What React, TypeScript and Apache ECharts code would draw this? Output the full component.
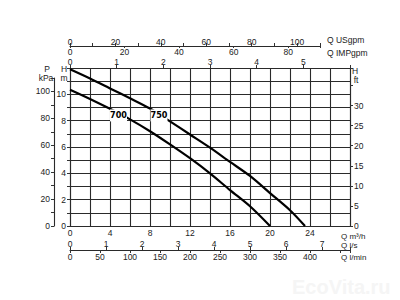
import React, { useEffect, useRef } from "react";
import * as echarts from "echarts";

// Flow (m³/h) and head (m)
const FLOW_700 = [0, 2, 4, 6, 8, 10, 12, 14, 16, 18, 20];
const HEAD_700 = [10.35, 9.65, 8.9, 8.1, 7.2, 6.2, 5.15, 4.0, 2.73, 1.5, 0];
const FLOW_750 = [0, 2, 4, 6, 8, 10, 12, 14, 16, 18, 20, 22, 23.5];
const HEAD_750 = [11.9, 11.2, 10.45, 9.7, 8.92, 7.95, 6.95, 5.95, 4.87, 3.8, 2.5, 1.2, 0];
const CURVE_NAMES = ["700", "750"];
const LABEL_AT = [
  [4.85, 8.4],
  [8.9, 8.4],
];

const FONT = "Liberation Sans, Arial, sans-serif";
const TXT = "#222";
const FS = 8.5;
const GRID_COLOR = "#2a2a2a";

export default function App() {
  const ref = useRef<HTMLDivElement>(null);
  useEffect(() => {
    const chart = echarts.init(ref.current!, null, { renderer: "svg" });
    const lab = (extra: any = {}) => ({
      fontFamily: FONT,
      fontSize: FS,
      color: TXT,
      hideOverlap: false,
      showMinLabel: true,
      showMaxLabel: true,
      ...extra,
    });
    const axLine = { show: true, onZero: false, lineStyle: { color: GRID_COLOR, width: 1.1 } };
    const noLine = { show: false, onZero: false };
    const tick = (len: number) => ({ show: true, length: len, lineStyle: { color: "#333", width: 1 } });
    const hidden = (g: number) => ({
      type: "value",
      gridIndex: g,
      show: false,
      min: 0,
      max: 1,
      axisLine: noLine,
      axisTick: { show: false },
      axisLabel: { show: false },
      splitLine: { show: false },
    });

    const mk = (flow: number[], head: number[], i: number) => ({
      type: "line",
      name: CURVE_NAMES[i],
      xAxisIndex: 0,
      yAxisIndex: 0,
      data: flow.map((q, k) => [q, head[k]]),
      smooth: 0.3,
      showSymbol: false,
      lineStyle: { color: "#000", width: 2.2 },
      z: 3,
      markPoint: {
        symbol: "rect",
        symbolSize: [17, 12],
        itemStyle: { color: "#fff" },
        label: {
          show: true,
          position: "inside",
          formatter: CURVE_NAMES[i],
          color: "#000",
          fontFamily: "DejaVu Sans Condensed, Liberation Sans Narrow, sans-serif",
          fontWeight: "bold",
          fontSize: 9,
        },
        data: [{ coord: LABEL_AT[i] }],
      },
    });

    const gtext = (text: string, x: number, y: number, align = "center", extra: any = {}) => ({
      type: "text",
      x,
      y,
      style: {
        text,
        fontFamily: FONT,
        fontSize: FS,
        fill: TXT,
        textAlign: align,
        textVerticalAlign: "middle",
        ...extra,
      },
    });

    chart.setOption({
      animation: false,
      backgroundColor: "#fff",
      grid: [
        { left: 70, top: 68, width: 280, height: 158 }, // 0 main
        { left: 54, top: 78, width: 1, height: 148 }, // 1 P kPa
        { left: 70, top: 46, width: 250, height: 10 }, // 2 USgpm
        { left: 70, top: 36, width: 250, height: 10 }, // 3 IMPgpm
        { left: 70, top: 250, width: 280, height: 10 }, // 4 l/s
        { left: 70, top: 240, width: 280, height: 10 }, // 5 l/min
      ],
      xAxis: [
        {
          type: "value",
          gridIndex: 0,
          position: "bottom",
          min: 0,
          max: 28,
          interval: 2,
          axisLine: axLine,
          axisTick: { show: false },
          axisLabel: lab({ margin: 2, formatter: (v: number) => (v % 4 === 0 && v < 28 ? String(v) : "") }),
          splitLine: { show: true, lineStyle: { color: GRID_COLOR, width: 1.1 } },
        },
        {
          type: "value",
          gridIndex: 0,
          position: "top",
          min: 0,
          max: 6,
          interval: 1,
          axisLine: axLine,
          axisTick: tick(3),
          axisLabel: lab({ margin: 2, formatter: (v: number) => (v < 6 ? String(v) : "") }),
          splitLine: { show: false },
        },
        hidden(1),
        {
          type: "value",
          gridIndex: 2,
          position: "top",
          min: 0,
          max: 25 / 0.227125,
          interval: 10,
          axisLine: axLine,
          axisTick: tick(3),
          axisLabel: lab({ margin: 0, formatter: (v: number) => (v % 20 === 0 && v <= 100 ? String(v) : "") }),
          splitLine: { show: false },
        },
        {
          type: "value",
          gridIndex: 3,
          position: "bottom",
          min: 0,
          max: 25 / 0.272765,
          interval: 20,
          axisLine: noLine,
          axisTick: tick(2),
          axisLabel: lab({ margin: 1, formatter: (v: number) => (v % 20 === 0 && v <= 80 ? String(v) : "") }),
          splitLine: { show: false },
        },
        {
          type: "value",
          gridIndex: 4,
          position: "top",
          min: 0,
          max: 28 / 3.6,
          interval: 1,
          axisLine: axLine,
          axisTick: tick(3),
          axisLabel: lab({ margin: 2, formatter: (v: number) => (Number.isInteger(v) && v <= 7 ? String(v) : "") }),
          splitLine: { show: false },
        },
        {
          type: "value",
          gridIndex: 5,
          position: "bottom",
          min: 0,
          max: 28 / 0.06,
          interval: 50,
          axisLine: noLine,
          axisTick: tick(3),
          axisLabel: lab({ margin: 2, formatter: (v: number) => (v % 50 === 0 && v <= 400 ? String(v) : "") }),
          splitLine: { show: false },
        },
      ],
      yAxis: [
        {
          type: "value",
          gridIndex: 0,
          position: "left",
          min: 0,
          max: 12,
          interval: 1,
          axisLine: axLine,
          axisTick: tick(3),
          axisLabel: lab({ margin: 4, formatter: (v: number) => (v % 2 === 0 && v < 12 ? String(v) : "") }),
          splitLine: { show: true, lineStyle: { color: GRID_COLOR, width: 1.1 } },
        },
        {
          type: "value",
          gridIndex: 0,
          position: "right",
          min: 0,
          max: 12 / 0.3048,
          interval: 5,
          axisLine: axLine,
          axisTick: tick(3),
          axisLabel: lab({ margin: 4, formatter: (v: number) => (v % 5 === 0 && v <= 30 ? String(v) : "") }),
          splitLine: { show: false },
        },
        {
          type: "value",
          gridIndex: 1,
          position: "left",
          min: 0,
          max: 110,
          interval: 10,
          axisLine: axLine,
          axisTick: tick(3),
          axisLabel: lab({ margin: 4, formatter: (v: number) => (v % 20 === 0 && v <= 100 ? String(v) : "") }),
          splitLine: { show: false },
        },
        hidden(2),
        hidden(3),
        hidden(4),
        hidden(5),
      ],
      series: [mk(FLOW_700, HEAD_700, 0), mk(FLOW_750, HEAD_750, 1)],
      graphic: [
        gtext("P", 47, 69),
        gtext("kPa", 46, 78),
        gtext("H", 64, 69),
        gtext("m", 64, 78),
        gtext("H", 355, 71),
        gtext("ft", 356, 80),
        gtext("Q USgpm", 327, 40, "left"),
        gtext("Q IMPgpm", 327, 53, "left"),
        gtext("Q m³/h", 341, 236, "left", { fontSize: 8 }),
        gtext("Q l/s", 341, 245, "left", { fontSize: 8 }),
        gtext("Q l/min", 341, 257, "left", { fontSize: 8 }),
        gtext("EcoVita.ru", 292, 287, "left", { fontSize: 20, fontWeight: "bold", fill: "#f5f5f5" }),
      ],
    });
    return () => chart.dispose();
  }, []);
  return <div ref={ref} style={{ position: "fixed", left: 0, top: 0, width: 400, height: 300 }} />;
}
